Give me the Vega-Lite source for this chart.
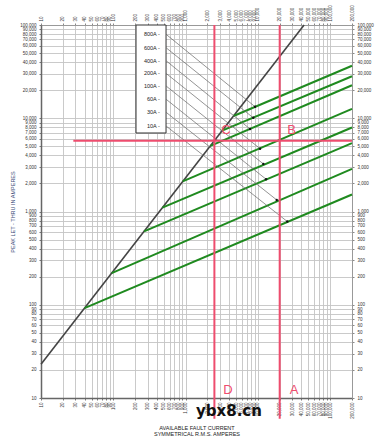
{
  "$schema": "https://vega.github.io/schema/vega-lite/v6.json",
  "width": 311,
  "height": 373,
  "autosize": {"type": "none"},
  "padding": {"left": 41, "top": 25, "right": 24, "bottom": 43},
  "background": "white",
  "config": {"view": {"stroke": null}, "font": "Liberation Sans"},
  "datasets": {
    "diag": [{"x": 10, "y": 23}, {"x": 43478, "y": 100000}],
    "green": [
      {"fuse": "10A", "x": 40, "y": 92}, {"fuse": "10A", "x": 200000, "y": 1520},
      {"fuse": "30A", "x": 95, "y": 218}, {"fuse": "30A", "x": 200000, "y": 2860},
      {"fuse": "60A", "x": 266, "y": 612}, {"fuse": "60A", "x": 200000, "y": 5400},
      {"fuse": "100A", "x": 477, "y": 1100}, {"fuse": "100A", "x": 200000, "y": 7950},
      {"fuse": "200A", "x": 912, "y": 2100}, {"fuse": "200A", "x": 200000, "y": 12600},
      {"fuse": "400A", "x": 2200, "y": 5060}, {"fuse": "400A", "x": 200000, "y": 22600},
      {"fuse": "600A", "x": 3200, "y": 7360}, {"fuse": "600A", "x": 200000, "y": 28200},
      {"fuse": "800A", "x": 4600, "y": 10580}, {"fuse": "800A", "x": 200000, "y": 36600}
    ],
    "fuses": [
      {"label": "800A -", "lx": 536, "ly": 79500, "tx": 440, "dx": 9120, "dy": 13300},
      {"label": "600A -", "lx": 536, "ly": 57100, "tx": 440, "dx": 8630, "dy": 10100},
      {"label": "400A -", "lx": 536, "ly": 41400, "tx": 440, "dx": 7780, "dy": 7670},
      {"label": "200A -", "lx": 536, "ly": 30300, "tx": 440, "dx": 10700, "dy": 4720},
      {"label": "100A -", "lx": 536, "ly": 22200, "tx": 440, "dx": 11880, "dy": 3240},
      {"label": "60A -", "lx": 536, "ly": 16000, "tx": 440, "dx": 12950, "dy": 2220},
      {"label": "30A -", "lx": 536, "ly": 11600, "tx": 440, "dx": 18200, "dy": 1330},
      {"label": "10A -", "lx": 536, "ly": 8260, "tx": 440, "dx": 25500, "dy": 780}
    ],
    "red": [
      {"x": 2500, "x2": 2500, "y": 100000, "y2": 6},
      {"x": 20000, "x2": 20000, "y": 100000, "y2": 6},
      {"x": 28, "x2": 200000, "y": 5750, "y2": 5750}
    ],
    "box": [{"x": 206, "x2": 536, "y": 6950, "y2": 100000}],
    "letters": [
      {"t": "C", "x": 3620, "y": 7400},
      {"t": "B", "x": 29300, "y": 7400},
      {"t": "D", "x": 3860, "y": 12.2},
      {"t": "A", "x": 31600, "y": 12.2}
    ],
    "mark": [{"t": "ybx8.cn", "x": 3980, "y": 7.3}]
  },
  "layer": [
    {
      "data": {"name": "diag"},
      "mark": {"type": "line", "color": "#444444", "strokeWidth": 1.6},
      "encoding": {
        "x": {"field": "x", "type": "quantitative",
          "scale": {"type": "log", "domain": [10, 200000], "nice": false},
          "axis": {"orient": "bottom",
            "values": [10,20,30,40,50,60,70,80,90,100,200,300,400,500,600,700,800,900,1000,2000,3000,4000,5000,6000,7000,8000,9000,10000,20000,30000,40000,50000,60000,70000,80000,90000,100000,200000],
            "format": ",", "labelAngle": -90, "labelFontSize": 4.5, "labelColor": "#333", "labelPadding": 2,
            "labelOverlap": false, "labelBound": false, "labelFlush": false,
            "tickSize": 2, "tickColor": "#777", "grid": true, "gridColor": "#c4c4c4", "gridWidth": 0.9,
            "domainColor": "#666", "domainWidth": 1.5,
            "title": ["AVAILABLE FAULT CURRENT", "SYMMETRICAL R.M.S. AMPERES"],
            "titleFontSize": 5.5, "titleFontWeight": "normal", "titleColor": "#222",
            "titleY": 27, "titleBaseline": "top", "titleLineHeight": 6.5}},
        "y": {"field": "y", "type": "quantitative",
          "scale": {"type": "log", "domain": [10, 100000], "nice": false},
          "axis": {"orient": "left",
            "values": [10,20,30,40,50,60,70,80,90,100,200,300,400,500,600,700,800,900,1000,2000,3000,4000,5000,6000,7000,8000,9000,10000,20000,30000,40000,50000,60000,70000,80000,90000,100000],
            "format": ",", "labelFontSize": 4.5, "labelColor": "#333", "labelPadding": 3,
            "labelOverlap": false, "labelBound": false, "labelFlush": false,
            "tickSize": 2, "tickColor": "#777", "grid": true, "gridColor": "#c4c4c4", "gridWidth": 0.9,
            "domainColor": "#666", "domainWidth": 1.5,
            "title": "PEAK LET - THRU IN AMPERES", "titleFontSize": 5.5, "titleFontWeight": "normal",
            "titleColor": "#3b4a78", "titleX": -29, "titleY": 186.5, "titleAngle": 270,
            "titleAlign": "center", "titleBaseline": "middle"}}
      }
    },
    {
      "data": {"name": "box"},
      "mark": {"type": "rect", "fill": "white", "stroke": "#333", "strokeWidth": 1},
      "encoding": {
        "x": {"field": "x", "type": "quantitative", "scale": {"type": "log", "domain": [10, 200000], "nice": false}, "axis": null},
        "x2": {"field": "x2"},
        "y": {"field": "y", "type": "quantitative", "scale": {"type": "log", "domain": [10, 100000], "nice": false}, "axis": null},
        "y2": {"field": "y2"}
      }
    },
    {
      "data": {"name": "green"},
      "mark": {"type": "line", "color": "#1f8a1f", "strokeWidth": 2},
      "encoding": {
        "x": {"field": "x", "type": "quantitative", "scale": {"type": "log", "domain": [10, 200000], "nice": false}, "axis": null},
        "y": {"field": "y", "type": "quantitative", "scale": {"type": "log", "domain": [10, 100000], "nice": false}, "axis": null},
        "detail": {"field": "fuse"}
      }
    },
    {
      "data": {"name": "fuses"},
      "mark": {"type": "rule", "color": "#666", "strokeWidth": 0.7},
      "encoding": {
        "x": {"field": "lx", "type": "quantitative", "scale": {"type": "log", "domain": [10, 200000], "nice": false}, "axis": null},
        "x2": {"field": "dx"},
        "y": {"field": "ly", "type": "quantitative", "scale": {"type": "log", "domain": [10, 100000], "nice": false}, "axis": null},
        "y2": {"field": "dy"}
      }
    },
    {
      "data": {"name": "fuses"},
      "mark": {"type": "point", "filled": true, "color": "#111", "size": 6, "opacity": 1},
      "encoding": {
        "x": {"field": "dx", "type": "quantitative", "scale": {"type": "log", "domain": [10, 200000], "nice": false}, "axis": null},
        "y": {"field": "dy", "type": "quantitative", "scale": {"type": "log", "domain": [10, 100000], "nice": false}, "axis": null}
      }
    },
    {
      "data": {"name": "fuses"},
      "mark": {"type": "text", "align": "right", "baseline": "middle", "fontSize": 5.5, "color": "#222"},
      "encoding": {
        "x": {"field": "tx", "type": "quantitative", "scale": {"type": "log", "domain": [10, 200000], "nice": false}, "axis": null},
        "y": {"field": "ly", "type": "quantitative", "scale": {"type": "log", "domain": [10, 100000], "nice": false}, "axis": null},
        "text": {"field": "label"}
      }
    },
    {
      "data": {"name": "red"},
      "mark": {"type": "rule", "color": "#ee4d6e", "strokeWidth": 2},
      "encoding": {
        "x": {"field": "x", "type": "quantitative", "scale": {"type": "log", "domain": [10, 200000], "nice": false}, "axis": null},
        "x2": {"field": "x2"},
        "y": {"field": "y", "type": "quantitative", "scale": {"type": "log", "domain": [10, 100000], "nice": false}, "axis": null},
        "y2": {"field": "y2"}
      }
    },
    {
      "data": {"name": "letters"},
      "mark": {"type": "text", "align": "center", "baseline": "middle", "fontSize": 13, "color": "#ee4d6e"},
      "encoding": {
        "x": {"field": "x", "type": "quantitative", "scale": {"type": "log", "domain": [10, 200000], "nice": false}, "axis": null},
        "y": {"field": "y", "type": "quantitative", "scale": {"type": "log", "domain": [10, 100000], "nice": false}, "axis": null},
        "text": {"field": "t"}
      }
    },
    {
      "data": {"name": "mark"},
      "mark": {"type": "text", "align": "center", "baseline": "middle", "fontSize": 15, "fontWeight": "bold", "font": "DejaVu Sans", "color": "#111"},
      "encoding": {
        "x": {"field": "x", "type": "quantitative", "scale": {"type": "log", "domain": [10, 200000], "nice": false}, "axis": null},
        "y": {"field": "y", "type": "quantitative", "scale": {"type": "log", "domain": [10, 100000], "nice": false}, "axis": null},
        "text": {"field": "t"}
      }
    },
    {
      "data": {"name": "diag"},
      "mark": {"type": "point", "opacity": 0},
      "encoding": {
        "x": {"field": "x", "type": "quantitative",
          "scale": {"type": "log", "domain": [10, 200000], "nice": false},
          "axis": {"orient": "top",
            "values": [10,20,30,40,50,60,70,80,90,100,200,300,400,500,600,700,800,900,1000,2000,3000,4000,5000,6000,7000,8000,9000,10000,20000,30000,40000,50000,60000,70000,80000,90000,100000,200000],
            "format": ",", "labelAngle": -90, "labelFontSize": 4.5, "labelColor": "#333", "labelPadding": 2,
            "labelOverlap": false, "labelBound": false, "labelFlush": false,
            "tickSize": 2, "tickColor": "#888", "grid": false, "domainColor": "#999", "domainWidth": 1, "title": null}},
        "y": {"field": "y", "type": "quantitative",
          "scale": {"type": "log", "domain": [10, 100000], "nice": false},
          "axis": {"orient": "right",
            "values": [10,20,30,40,50,60,70,80,90,100,200,300,400,500,600,700,800,900,1000,2000,3000,4000,5000,6000,7000,8000,9000,10000,20000,30000,40000,50000,60000,70000,80000,90000,100000],
            "format": ",", "labelFontSize": 4.5, "labelColor": "#333", "labelPadding": 3,
            "labelOverlap": false, "labelBound": false, "labelFlush": false,
            "tickSize": 2, "tickColor": "#888", "grid": false, "domainColor": "#999", "domainWidth": 1, "title": null}}
      }
    }
  ],
  "resolve": {"axis": {"x": "independent", "y": "independent"}}
}
